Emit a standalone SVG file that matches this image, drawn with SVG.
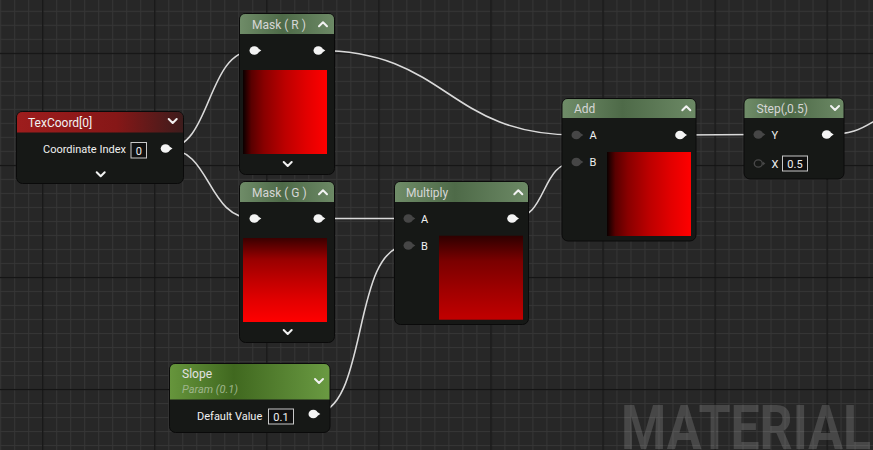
<svg xmlns="http://www.w3.org/2000/svg" width="873" height="450" viewBox="0 0 873 450">
<style>
.body{fill:#161816;stroke:#0a0a0a;stroke-width:1}
.title{font-family:Roboto,"Liberation Sans",sans-serif;font-size:12px;fill:#d6d6d6}
.lbl{font-family:Roboto,"Liberation Sans",sans-serif;font-size:11px;fill:#f0f0f0}
.val{font-family:Roboto,"Liberation Sans",sans-serif;font-size:11px;fill:#f0f0f0;text-anchor:middle}
.box{fill:#101010;stroke:#c8c8c8;stroke-width:1}
.chev{fill:none;stroke:#f2f2f2;stroke-width:2;stroke-linecap:round;stroke-linejoin:round}
.pin{fill:#f4f4f4}
.pinin{fill:#464646}
.wire{fill:none;stroke:#dadada;stroke-width:1.6}
</style>
<defs>
<pattern id="minor" width="14.006" height="14.006" patternUnits="userSpaceOnUse" x="0.2" y="10.8">
<rect width="14.006" height="14.006" fill="#272727"/>
<rect width="1" height="14.006" fill="#363636"/>
<rect width="14.006" height="1" fill="#363636"/>
</pattern>
<pattern id="major" width="112.05" height="112.05" patternUnits="userSpaceOnUse" x="42.2" y="52.8">
<rect width="1.2" height="112.05" fill="#121212"/>
<rect width="112.05" height="1.2" fill="#121212"/>
</pattern>
<linearGradient id="hdrGreen" x1="0" y1="0" x2="1" y2="0">
<stop offset="0" stop-color="#6f8c68"/>
<stop offset="0.45" stop-color="#4e6a48"/>
<stop offset="1" stop-color="#6c8965"/>
</linearGradient>
<linearGradient id="hdrRed" x1="0" y1="0" x2="1" y2="0">
<stop offset="0" stop-color="#9e1d1d"/>
<stop offset="0.6" stop-color="#861717"/>
<stop offset="1" stop-color="#3d1c1c"/>
</linearGradient>
<linearGradient id="hdrSlope" x1="0" y1="0" x2="1" y2="0">
<stop offset="0" stop-color="#66953c"/>
<stop offset="0.4" stop-color="#40681f"/>
<stop offset="1" stop-color="#6a9a42"/>
</linearGradient>
<linearGradient id="gradH" x1="0" y1="0" x2="1" y2="0">
<stop offset="0" stop-color="#0a0000"/>
<stop offset="0.1" stop-color="#590000"/>
<stop offset="0.25" stop-color="#890000"/>
<stop offset="0.5" stop-color="#bc0000"/>
<stop offset="0.75" stop-color="#e10000"/>
<stop offset="1" stop-color="#ff0000"/>
</linearGradient>
<linearGradient id="gradV" x1="0" y1="0" x2="0" y2="1">
<stop offset="0" stop-color="#3a0000"/>
<stop offset="0.25" stop-color="#980000"/>
<stop offset="0.5" stop-color="#c00000"/>
<stop offset="0.75" stop-color="#e30000"/>
<stop offset="1" stop-color="#ff0000"/>
</linearGradient>
<linearGradient id="gradM" x1="0" y1="0" x2="0" y2="1">
<stop offset="0" stop-color="#2e0000"/>
<stop offset="0.3" stop-color="#7a0000"/>
<stop offset="0.65" stop-color="#a00000"/>
<stop offset="1" stop-color="#c20000"/>
</linearGradient>
</defs>

<rect width="873" height="450" fill="url(#minor)"/>
<rect width="873" height="450" fill="url(#major)"/>
<text x="621" y="449" font-family="Roboto,'Liberation Sans',sans-serif" font-weight="bold" font-size="62" fill="#ffffff" fill-opacity="0.15" textLength="250" lengthAdjust="spacingAndGlyphs">MATERIAL</text>

<g id="connectors">
<path class="wire" d="M166,148.5 C212,148.5 206,50.5 254,50.5"/>
<path class="wire" d="M166,148.5 C212,148.5 206,218.5 254,218.5"/>
<path class="wire" d="M318,50.5 C448,50.5 446,135 576,135"/>
<path class="wire" d="M318,218.5 L408,218.5"/>
<path class="wire" d="M313,414 C370,414 350,245.5 408,245.5"/>
<path class="wire" d="M512,218.5 C548,218.5 540,162 576,162"/>
<path class="wire" d="M680,135 L758,134.5"/>
<path class="wire" d="M827,134.5 C850,134.5 860,130 876,120"/>
</g>

<g id="texcoord">
<rect class="body" x="16.5" y="111.5" width="167" height="72" rx="6"/>
<path d="M17,132.5 V117.5 Q17,112 22.5,112 H177.5 Q183,112 183,117.5 V132.5 Z" fill="url(#hdrRed)"/>
<text class="title" x="28" y="127" style="fill:#f2f2f2">TexCoord[0]</text>
<polyline class="chev" points="168.7,119 172.7,123 176.7,119"/>
<text class="lbl" x="43" y="153">Coordinate Index</text>
<rect class="box" x="131" y="142.5" width="15.5" height="15.5"/>
<text class="val" x="138.8" y="154.5">0</text>
<ellipse class="pin" cx="165.5" cy="148.5" rx="4.8" ry="4.3"/>
<polygon class="pin" points="169.5,146.5 172.5,148.5 169.5,150.5"/>
<polyline class="chev" points="96.7,172.3 100.7,176.3 104.7,172.3"/>
</g>

<g id="maskR">
<rect class="body" x="239.5" y="13.5" width="95" height="161" rx="6"/>
<path d="M240,34 V19.5 Q240,14 245.5,14 H328.5 Q334,14 334,19.5 V34 Z" fill="url(#hdrGreen)"/>
<text class="title" x="252" y="28.5">Mask ( R )</text>
<polyline class="chev" points="319,26.3 323,22.3 327,26.3"/>
<ellipse class="pin" cx="254.3" cy="50.5" rx="4.8" ry="4.3"/>
<polygon class="pin" points="258.3,48.5 261.3,50.5 258.3,52.5"/>
<ellipse class="pin" cx="318.3" cy="50.5" rx="4.8" ry="4.3"/>
<polygon class="pin" points="322.3,48.5 325.3,50.5 322.3,52.5"/>
<rect x="243" y="70" width="84" height="84" fill="url(#gradH)"/>
<polyline class="chev" points="283.7,162 287.7,166 291.7,162"/>
</g>

<g id="maskG">
<rect class="body" x="239.5" y="181.5" width="95" height="161" rx="6"/>
<path d="M240,202 V187.5 Q240,182 245.5,182 H328.5 Q334,182 334,187.5 V202 Z" fill="url(#hdrGreen)"/>
<text class="title" x="252" y="196.5">Mask ( G )</text>
<polyline class="chev" points="319,194.3 323,190.3 327,194.3"/>
<ellipse class="pin" cx="254.3" cy="218.5" rx="4.8" ry="4.3"/>
<polygon class="pin" points="258.3,216.5 261.3,218.5 258.3,220.5"/>
<ellipse class="pin" cx="318.3" cy="218.5" rx="4.8" ry="4.3"/>
<polygon class="pin" points="322.3,216.5 325.3,218.5 322.3,220.5"/>
<rect x="243" y="238" width="84" height="84" fill="url(#gradV)"/>
<polyline class="chev" points="283.7,330 287.7,334 291.7,330"/>
</g>

<g id="multiply">
<rect class="body" x="394.5" y="181.5" width="134" height="143" rx="6"/>
<path d="M395,202 V187.5 Q395,182 400.5,182 H522.5 Q528,182 528,187.5 V202 Z" fill="url(#hdrGreen)"/>
<text class="title" x="406" y="197">Multiply</text>
<polyline class="chev" points="514.3,194.3 518.3,190.3 522.3,194.3"/>
<ellipse class="pinin" cx="408.3" cy="218.5" rx="4.8" ry="4.3"/>
<polygon class="pinin" points="412.3,216.5 415.3,218.5 412.3,220.5"/>
<text class="lbl" x="421" y="222.5">A</text>
<ellipse class="pinin" cx="408.3" cy="245.5" rx="4.8" ry="4.3"/>
<polygon class="pinin" points="412.3,243.5 415.3,245.5 412.3,247.5"/>
<text class="lbl" x="421" y="249.5">B</text>
<ellipse class="pin" cx="512" cy="218.5" rx="4.8" ry="4.3"/>
<polygon class="pin" points="516,216.5 519,218.5 516,220.5"/>
<rect x="439" y="235.7" width="84" height="84" fill="url(#gradM)"/>
</g>

<g id="add">
<rect class="body" x="562" y="98.5" width="134" height="142.5" rx="6"/>
<path d="M562.5,118 V104.5 Q562.5,99 568,99 H690 Q695.5,99 695.5,104.5 V118 Z" fill="url(#hdrGreen)"/>
<text class="title" x="574" y="112.5">Add</text>
<polyline class="chev" points="682.3,110.3 686.3,106.3 690.3,110.3"/>
<ellipse class="pinin" cx="576.3" cy="135" rx="4.8" ry="4.3"/>
<polygon class="pinin" points="580.3,133 583.3,135 580.3,137"/>
<text class="lbl" x="589.5" y="139">A</text>
<ellipse class="pinin" cx="576.3" cy="162" rx="4.8" ry="4.3"/>
<polygon class="pinin" points="580.3,160 583.3,162 580.3,164"/>
<text class="lbl" x="589.5" y="166">B</text>
<ellipse class="pin" cx="680" cy="135" rx="4.8" ry="4.3"/>
<polygon class="pin" points="684,133 687,135 684,137"/>
<rect x="607" y="152" width="84" height="84" fill="url(#gradH)"/>
</g>

<g id="step">
<rect class="body" x="744" y="98" width="100" height="81" rx="6"/>
<path d="M744.5,118 V104 Q744.5,98.5 750,98.5 H838 Q843.5,98.5 843.5,104 V118 Z" fill="url(#hdrGreen)"/>
<text class="title" x="756.5" y="112.5">Step(,0.5)</text>
<polyline class="chev" points="831,106 835,110 839,106"/>
<ellipse class="pinin" cx="758.3" cy="134.5" rx="4.8" ry="4.3"/>
<polygon class="pinin" points="762.3,132.5 765.3,134.5 762.3,136.5"/>
<text class="lbl" x="771.5" y="138.5">Y</text>
<ellipse cx="758.3" cy="163.5" rx="4" ry="3.6" fill="none" stroke="#484848" stroke-width="1.4"/>
<polygon class="pinin" points="762.8,161.5 765.3,163.5 762.8,165.5"/>
<text class="lbl" x="771.5" y="167.5">X</text>
<rect class="box" x="782.5" y="156" width="25" height="15"/>
<text class="val" x="795" y="167.5">0.5</text>
<ellipse class="pin" cx="826.7" cy="134.5" rx="4.8" ry="4.3"/>
<polygon class="pin" points="830.7,132.5 833.7,134.5 830.7,136.5"/>
</g>

<g id="slope">
<rect class="body" x="169.5" y="363.5" width="160.5" height="69" rx="6"/>
<path d="M170,399.5 V369.5 Q170,364 175.5,364 H324 Q329.5,364 329.5,369.5 V399.5 Z" fill="url(#hdrSlope)"/>
<text class="title" x="182" y="378" style="fill:#e2e2e2">Slope</text>
<text x="182" y="392.5" font-family="Roboto,'Liberation Sans',sans-serif" font-size="11" font-style="italic" fill="#9fb58c">Param (0.1)</text>
<polyline class="chev" points="315,379 319,383 323,379"/>
<text class="lbl" x="197" y="419.5">Default Value</text>
<rect class="box" x="268.5" y="409" width="25" height="15"/>
<text class="val" x="281" y="420.5">0.1</text>
<ellipse class="pin" cx="313.3" cy="414" rx="4.8" ry="4.3"/>
<polygon class="pin" points="317.3,412 320.3,414 317.3,416"/>
</g>
</svg>
